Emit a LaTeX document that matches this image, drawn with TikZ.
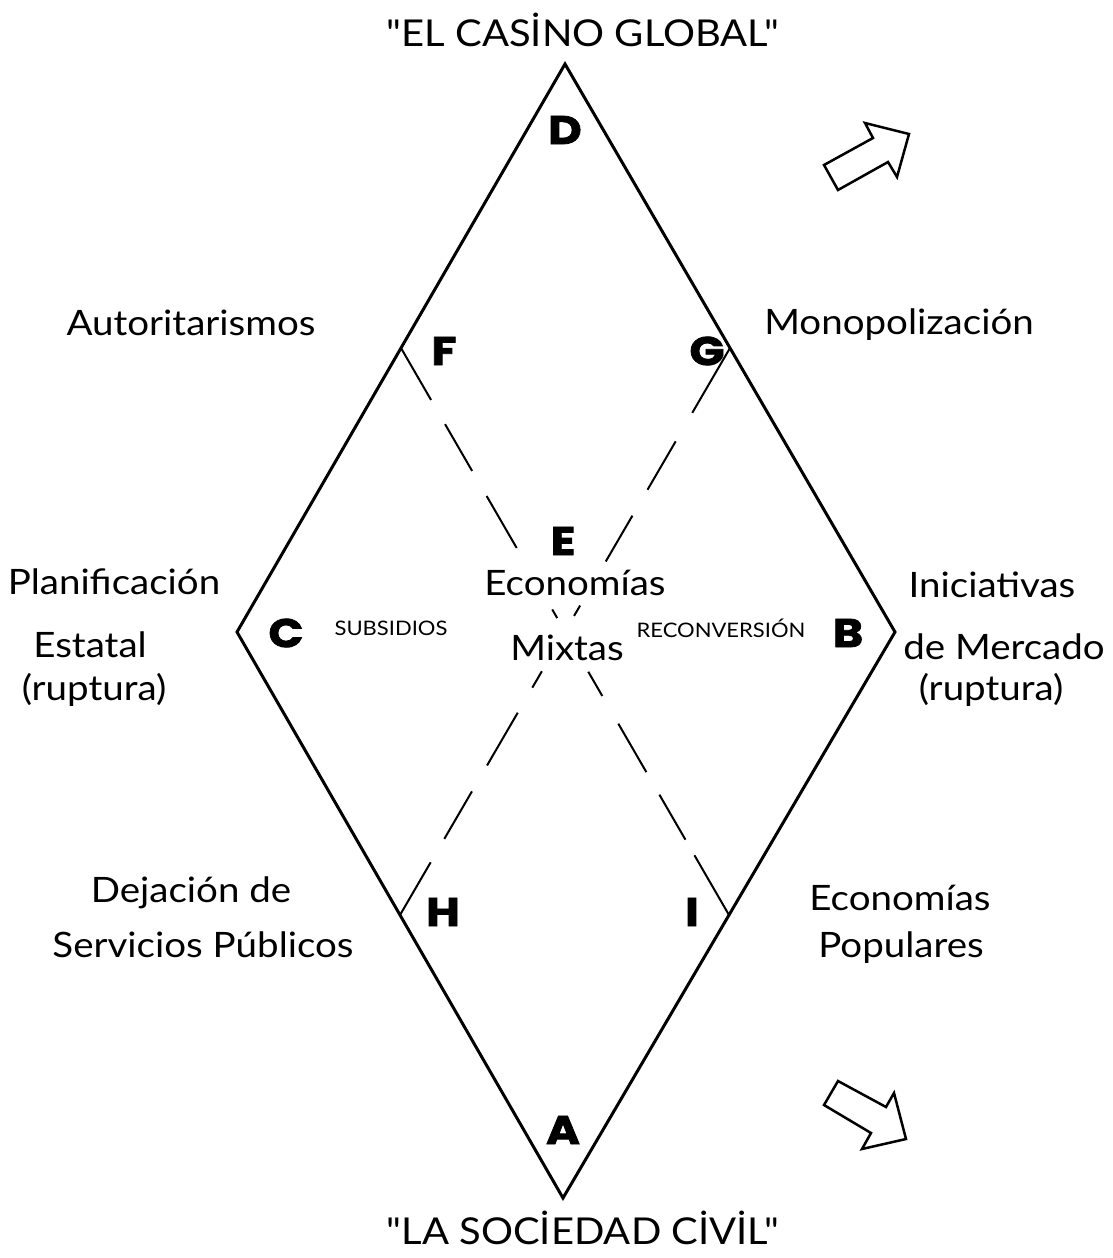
\documentclass[tikz,border=0pt]{standalone}
\usepackage{fontspec}
\setmainfont{Lato}[FakeStretch=1.1]
\newfontfamily\qfont{Lato}[FakeStretch=1.08, Ligatures=TeXOff]
\newfontfamily\letfont{Poppins}[BoldFeatures={FakeBold=2}, FakeStretch=1.15]
\usetikzlibrary{calc}
\tikzset{
  edge/.style={line width=3pt, line join=miter},
  dashline/.style={line width=2pt},
  lett/.style={inner sep=0pt, font=\letfont\bfseries\fontsize{40}{42}\selectfont},
  lab/.style={inner sep=0pt, font=\fontsize{35}{38}\selectfont},
  ttl/.style={inner sep=0pt, font=\qfont\fontsize{37}{40}\selectfont},
  small/.style={inner sep=0pt, font=\fontsize{20}{24}\selectfont},
  blockarrow/.style={line width=2.5pt, line join=miter, fill=white}
}
\begin{document}
\begin{tikzpicture}[x=1pt,y=-1pt]
\useasboundingbox (0,0) rectangle (1112,1258);
\coordinate (D) at (565,64);
\coordinate (B) at (895,632);
\coordinate (A) at (563,1198);
\coordinate (C) at (237,632);
\coordinate (F) at ($(D)!0.5!(C)$);
\coordinate (G) at ($(D)!0.5!(B)$);
\coordinate (H) at ($(C)!0.5!(A)$);
\coordinate (I) at ($(B)!0.5!(A)$);
% diamond
\draw[edge] (D) -- (B) -- (A) -- (C) -- cycle;
% dashed diagonals
\draw[dashline, dash pattern=on 60pt off 28pt on 54pt off 29pt on 60pt off 71pt on 10pt off 62pt on 28pt off 32pt on 56pt off 26pt on 52pt off 18pt on 80pt off 10pt] (F) -- (I);
\draw[dashline, dash pattern=on 75pt off 33pt on 56pt off 30pt on 53pt off 51pt on 12pt off 64pt on 19pt off 29pt on 61pt off 30pt on 55pt off 27pt on 70pt off 10pt] (G) -- (H);
% letters
\node[lett] (lD) at (565,130) {D};
\node[lett] (lF) at (444,351) {F};
\node[lett] (lG) at (707,351) {G};
\node[lett] (lE) at (563,541) {E};
\node[lett] (lC) at (286,633) {C};
\node[lett] (lB) at (848,633) {B};
\node[lett] (lH) at (443,912) {H};
\node[lett] (lI) at (692,912) {I};
\node[lett] (lA) at (563,1130) {A};
% titles
\node[ttl] (top) at (583,30) {"EL CASİNO GLOBAL"};
\node[ttl] (bot) at (583,1228) {"LA SOCİEDAD CİVİL"};
% side labels
\node[lab] (aut) at (191,323) {Autoritarismos};
\node[lab] (mon) at (899,325) {Monopolización};
\node[lab] (pla) at (114,582) {Planificación};
\node[lab] (est) at (90,645) {Estatal};
\node[lab] (rup1) at (94,690) {(ruptura)};
\node[lab] (ini) at (992,585) {Iniciativas};
\node[lab] (mer) at (1004,647) {de Mercado};
\node[lab] (rup2) at (991,690) {(ruptura)};
\node[lab] (eco) at (575,583) {Economías};
\node[lab] (mix) at (567,648) {Mixtas};
\node[small] (sub) at (391,628) {SUBSIDIOS};
\node[small] (rec) at (721,628) {RECONVERSIÓN};
\node[lab] (dej) at (191,893) {Dejación de};
\node[lab] (ser) at (203,945) {Servicios Públicos};
\node[lab] (eco2) at (900,898) {Economías};
\node[lab] (pop) at (901,948) {Populares};
% block arrows
\draw[blockarrow] (824,165) -- (873,138) -- (865,123) -- (909,134) -- (897,177) -- (888,162) -- (838,190) -- cycle;
\draw[blockarrow] (824,1105) -- (838,1081) -- (886,1107) -- (894,1093) -- (906,1139) -- (862,1149) -- (871,1133) -- cycle;
\end{tikzpicture}
\end{document}
